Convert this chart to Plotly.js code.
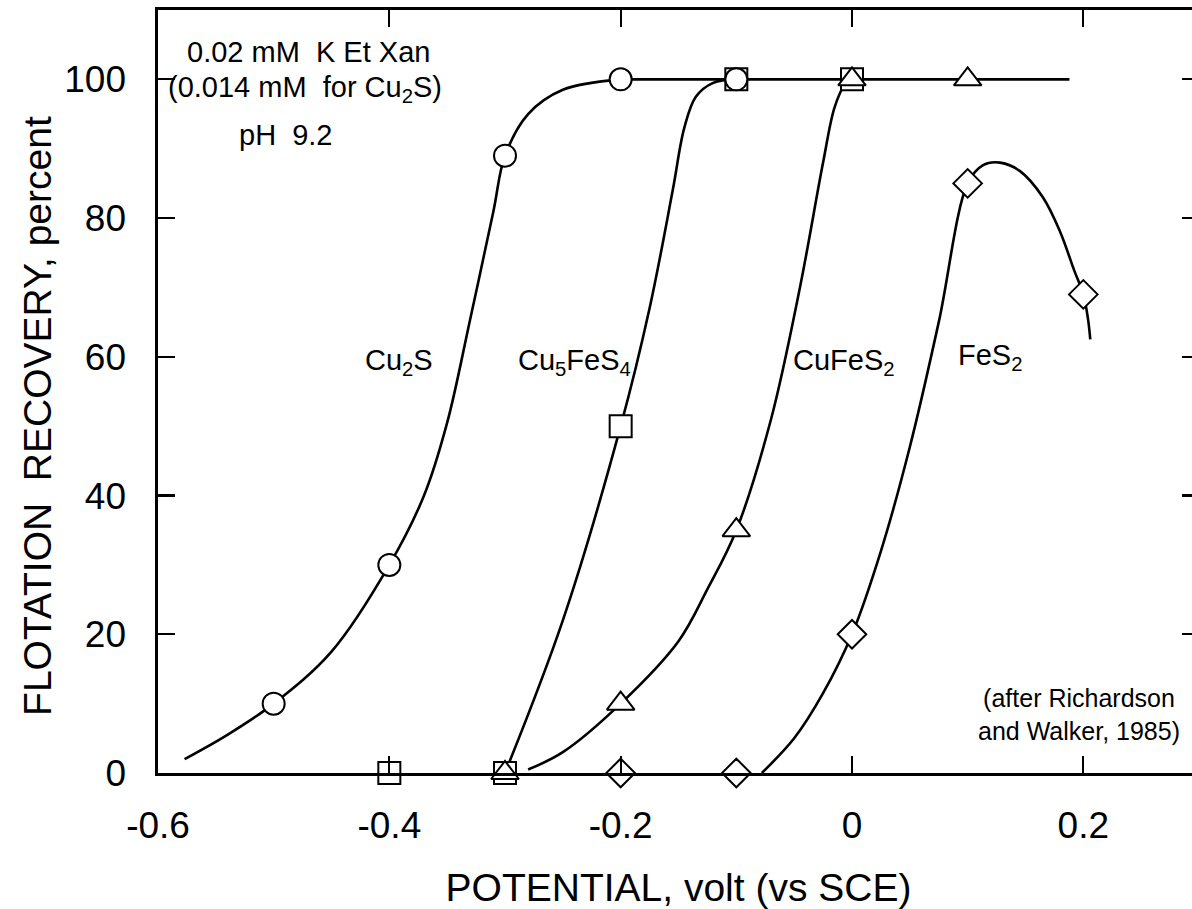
<!DOCTYPE html>
<html>
<head>
<meta charset="utf-8">
<script src="https://cdn.plot.ly/plotly-3.0.1.min.js"></script>
<style>
html,body{margin:0;padding:0;background:#fff;overflow:hidden;}
#chart{width:1210px;height:909px;}
</style>
</head>
<body>
<div id="chart"></div>
<script>
// ---- measured data points (open symbols) ----
const cu2sX = [-0.5, -0.4, -0.3, -0.2, -0.1];
const cu2sY = [10, 30, 89, 100, 100];
const cu5X = [-0.4, -0.3, -0.2, -0.1, 0];
const cu5Y = [0, 0, 50, 100, 100];
const cufeX = [-0.3, -0.2, -0.1, 0, 0.1];
const cufeY = [0, 10, 35, 100, 100];
const fes2X = [-0.2, -0.1, 0, 0.1, 0.2];
const fes2Y = [0, 0, 20, 85, 69];

// ---- hand-drawn fitted curves ----
const cu2sCurveX = [-0.577, -0.54, -0.5, -0.45, -0.4, -0.37, -0.35, -0.33, -0.31, -0.3, -0.28, -0.25, -0.2];
const cu2sCurveY = [2, 5.5, 10, 17.5, 30, 40, 50.5, 65.5, 81, 89, 95, 98.5, 100];
const cu5CurveX = [-0.3, -0.25, -0.2, -0.175, -0.155, -0.145, -0.135, -0.12, -0.1];
const cu5CurveY = [0, 22, 50, 67, 84, 93, 97.5, 99.5, 100];
const cufeCurveX = [-0.28, -0.25, -0.2, -0.15, -0.125, -0.1, -0.07, -0.045, -0.025, -0.015, -0.006, 0];
const cufeCurveY = [0.5, 3, 10, 19, 26.5, 35, 51, 70, 88, 96, 99.3, 100];
const fes2CurveX = [-0.078, -0.05, -0.025, 0, 0.025, 0.05, 0.075, 0.1, 0.113, 0.128, 0.145, 0.165, 0.18, 0.192, 0.2, 0.204, 0.206];
const fes2CurveY = [0, 5, 11.5, 20, 32, 47, 65, 85, 87.6, 88, 86.8, 83, 78, 72.5, 69, 65.5, 62.5];
const plateauX = [-0.2, 0.188];
const plateauY = [100, 100];

// ---- axis ticks ----
const xTickVals = [-0.6, -0.4, -0.2, 0, 0.2];
const xTickText = ['-0.6', '-0.4', '-0.2', '0', '0.2'];
const yTickVals = [0, 20, 40, 60, 80, 100];
const yTickText = ['0', '20', '40', '60', '80', '100'];

const FONT = 'Liberation Sans, Arial, Helvetica, sans-serif';
const lineStyle = {color: '#000', width: 2.6, shape: 'spline', smoothing: 1};

function curve(x, y) {
  return {x: x, y: y, type: 'scatter', mode: 'lines', line: lineStyle, hoverinfo: 'skip', showlegend: false};
}
function pts(x, y, symbol, size) {
  return {x: x, y: y, type: 'scatter', mode: 'markers', cliponaxis: false, showlegend: false,
    marker: {symbol: symbol, size: size, color: '#fff', line: {color: '#000', width: 2}}};
}

const traces = [
  curve(cu2sCurveX, cu2sCurveY),
  curve(cu5CurveX, cu5CurveY),
  curve(cufeCurveX, cufeCurveY),
  curve(fes2CurveX, fes2CurveY),
  {x: plateauX, y: plateauY, type: 'scatter', mode: 'lines', line: {color: '#000', width: 2.6}, showlegend: false},
  pts(cu5X, cu5Y, 'square', 22),
  pts(cu2sX, cu2sY, 'circle', 22),
  pts(cufeX, cufeY, 'triangle-up', 24),
  pts(fes2X, fes2Y, 'diamond', 22)
];

function ann(x, y, text, size, extra) {
  return Object.assign({x: x, y: y, xref: 'x', yref: 'y', text: text, showarrow: false,
    font: {family: FONT, size: size, color: '#000'}, xanchor: 'center', yanchor: 'middle'}, extra || {});
}

const layout = {
  width: 1210, height: 909,
  margin: {l: 158, r: 11, t: 10, b: 136},
  paper_bgcolor: '#fff', plot_bgcolor: '#fff',
  font: {family: FONT, color: '#000'},
  xaxis: {
    range: [-0.6, 0.3], tickvals: xTickVals, ticktext: xTickText,
    ticks: 'inside', ticklen: 17, tickwidth: 2.2, tickcolor: '#000',
    showline: true, linecolor: '#000', linewidth: 2.6, mirror: 'ticks',
    showgrid: false, zeroline: false,
    tickfont: {family: FONT, size: 37, color: '#000'},
    ticklabelstandoff: 18,
    title: {text: 'POTENTIAL, volt (vs SCE)', font: {family: FONT, size: 39, color: '#000'}, standoff: 32}
  },
  yaxis: {
    range: [0, 110], tickvals: yTickVals, ticktext: yTickText,
    ticks: 'inside', ticklen: 17, tickwidth: 2.2, tickcolor: '#000',
    showline: true, linecolor: '#000', linewidth: 2.6, mirror: 'ticks',
    showgrid: false, zeroline: false,
    tickfont: {family: FONT, size: 37, color: '#000'},
    ticklabelstandoff: 22
  },
  annotations: [
    {x: -0.1153, y: 0.468, xref: 'paper', yref: 'paper', text: 'FLOTATION\u00a0 RECOVERY, percent',
     textangle: -90, showarrow: false, xanchor: 'center', yanchor: 'middle',
     font: {family: FONT, size: 39, color: '#000'}},
    ann(-0.470, 104.0, '0.02 mM\u00a0 K Et Xan', 29),
    ann(-0.473, 98.6, '(0.014 mM\u00a0 for Cu<sub>2</sub>S)', 29),
    ann(-0.489, 92.0, 'pH\u00a0 9.2', 29),
    ann(-0.392, 59.3, 'Cu<sub>2</sub>S', 29),
    ann(-0.240, 59.3, 'Cu<sub>5</sub>FeS<sub>4</sub>', 29),
    ann(-0.007, 59.3, 'CuFeS<sub>2</sub>', 29),
    ann(0.119, 60.0, 'FeS<sub>2</sub>', 29),
    ann(0.196, 8.5, '(after Richardson<br>and Walker, 1985)', 25, {align: 'center'})
  ]
};

Plotly.newPlot('chart', traces, layout, {staticPlot: true, displayModeBar: false});
</script>
</body>
</html>
